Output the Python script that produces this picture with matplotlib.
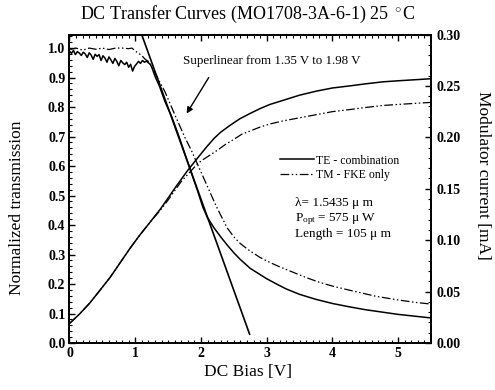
import matplotlib; matplotlib.use("Agg")
import matplotlib.pyplot as plt
from matplotlib.ticker import MultipleLocator, FormatStrFormatter
from matplotlib.lines import Line2D

plt.rcParams["font.family"] = ["Liberation Serif", "DejaVu Serif"]
plt.rcParams["mathtext.fontset"] = "custom"
plt.rcParams["mathtext.rm"] = "Liberation Serif"
plt.rcParams["mathtext.it"] = "Liberation Serif:italic"

# ---------- data ----------
# normalized transmission, TE - combination (solid, noisy at low bias)
te_T_x = [0.0, 0.03, 0.06, 0.09, 0.12, 0.15, 0.18, 0.21, 0.24, 0.27, 0.3, 0.33, 0.36,
          0.39, 0.42, 0.45, 0.48, 0.51, 0.54, 0.57, 0.6, 0.63, 0.66, 0.69, 0.72, 0.75,
          0.78, 0.81, 0.84, 0.87, 0.9, 0.93, 0.96, 0.99, 1.02, 1.05, 1.08, 1.11, 1.14,
          1.17, 1.2, 1.23, 1.26, 1.3,
          1.37, 1.45, 1.55, 1.65, 1.75, 1.85, 1.95, 2.03, 2.1, 2.2, 2.3, 2.4, 2.5, 2.6,
          2.75, 2.9, 3.0, 3.15, 3.3, 3.5, 3.75, 4.0, 4.25, 4.5, 4.75, 5.0, 5.25, 5.5]
te_T_y = [0.99, 0.982, 0.992, 0.978, 0.988, 0.983, 0.975, 0.986, 0.98, 0.968, 0.984,
          0.976, 0.962, 0.979, 0.972, 0.978, 0.958, 0.974, 0.966, 0.952, 0.97, 0.96,
          0.948, 0.965, 0.955, 0.94, 0.958, 0.95, 0.944, 0.952, 0.935, 0.945, 0.922,
          0.938, 0.946, 0.955, 0.948, 0.958, 0.952, 0.956, 0.95, 0.945, 0.93, 0.905,
          0.87, 0.82, 0.77, 0.71, 0.645, 0.58, 0.515, 0.46, 0.425, 0.39, 0.36, 0.332,
          0.306, 0.283, 0.253, 0.232, 0.218, 0.2, 0.183, 0.165, 0.148, 0.134, 0.123,
          0.113, 0.105, 0.097, 0.091, 0.085]
# normalized transmission, TM - FKE only (dash-dot-dot)
tm_T_x = [0.0, 0.1, 0.2, 0.3, 0.4, 0.5, 0.6, 0.7, 0.8, 0.9, 0.95, 1.03, 1.1, 1.15, 1.2,
          1.27, 1.35, 1.45, 1.53, 1.6, 1.68, 1.76, 1.85, 1.96, 2.05, 2.14, 2.23, 2.32,
          2.4, 2.5, 2.6, 2.74, 2.9, 3.05, 3.2, 3.4, 3.6, 3.8, 4.0, 4.3, 4.67, 5.0,
          5.25, 5.5]
tm_T_y = [0.995, 1.0, 0.993, 1.0, 0.996, 1.0, 0.995, 1.0, 1.0, 0.998, 1.0, 0.985, 0.975,
          0.962, 0.955, 0.93, 0.895, 0.853, 0.812, 0.775, 0.735, 0.695, 0.655, 0.60,
          0.555, 0.51, 0.465, 0.425, 0.39, 0.36, 0.337, 0.313, 0.29, 0.273, 0.258,
          0.24, 0.222, 0.206, 0.193, 0.177, 0.158, 0.146, 0.138, 0.132]
# modulator current [mA]
te_I_x = [0.0, 0.15, 0.31, 0.46, 0.62, 0.77, 0.92, 1.07, 1.22, 1.38, 1.5, 1.63, 1.8,
          1.95, 2.09, 2.2, 2.3, 2.45, 2.59, 2.74, 2.9, 3.05, 3.25, 3.5, 3.76, 4.0, 4.26,
          4.5, 4.77, 5.0, 5.25, 5.5]
te_I_y = [0.019, 0.028, 0.039, 0.051, 0.064, 0.078, 0.092, 0.105, 0.117, 0.13, 0.141,
          0.153, 0.168, 0.18, 0.191, 0.199, 0.205, 0.212, 0.218, 0.223, 0.228, 0.232,
          0.236, 0.241, 0.245, 0.248, 0.25, 0.252, 0.254, 0.255, 0.256, 0.257]
tm_I_x = [0.0, 0.15, 0.31, 0.46, 0.62, 0.77, 0.92, 1.07, 1.22, 1.38, 1.5, 1.6, 1.7, 1.8,
          1.9, 2.0, 2.12, 2.24, 2.37, 2.5, 2.62, 2.74, 2.9, 3.05, 3.25, 3.5, 3.75, 4.0,
          4.26, 4.5, 4.77, 5.0, 5.25, 5.5]
tm_I_y = [0.019, 0.028, 0.039, 0.051, 0.064, 0.078, 0.092, 0.105, 0.117, 0.129, 0.139,
          0.148, 0.157, 0.164, 0.171, 0.177, 0.182, 0.187, 0.193, 0.198, 0.203, 0.206,
          0.21, 0.213, 0.216, 0.219, 0.222, 0.225, 0.227, 0.229, 0.231, 0.232, 0.233,
          0.234]
# straight tangent line
fit_x = [1.10, 2.74]
fit_y = [1.045, 0.03]

dashdot2 = (0, (7, 2, 1.2, 2, 1.2, 2))

fig = plt.figure(figsize=(4.95, 3.9), dpi=100)
ax = fig.add_axes([0.1404, 0.1205, 0.7303, 0.791])
ax2 = ax.twinx()

ax.plot(te_T_x, te_T_y, color="black", lw=1.1)
ax.plot(tm_T_x, tm_T_y, color="black", lw=0.9, ls=dashdot2)
ax.plot(fit_x, fit_y, color="black", lw=1.2)
ax2.plot(te_I_x, te_I_y, color="black", lw=1.1)
ax2.plot(tm_I_x, tm_I_y, color="black", lw=0.9, ls=dashdot2)

ax.set_xlim(0, 5.5)
ax.set_ylim(0, 1.046)
ax2.set_ylim(0, 0.30)

tick_font = dict(family="Liberation Serif", weight="bold", size=10)
ax.xaxis.set_major_locator(MultipleLocator(1))
ax.xaxis.set_minor_locator(MultipleLocator(0.1))
ax.yaxis.set_major_locator(MultipleLocator(0.1))
ax.yaxis.set_minor_locator(MultipleLocator(0.02))
ax.yaxis.set_major_formatter(FormatStrFormatter("%.1f"))
ax2.yaxis.set_major_locator(MultipleLocator(0.05))
ax2.yaxis.set_minor_locator(MultipleLocator(0.01))
ax2.yaxis.set_major_formatter(FormatStrFormatter("%.2f"))
ax.tick_params(axis="x", which="both", direction="in", top=True, pad=3)
ax.tick_params(axis="y", which="both", direction="in", pad=3)
ax.tick_params(which="major", length=4, width=1.0)
ax.tick_params(which="minor", length=2, width=0.8)
ax2.tick_params(which="both", direction="in", pad=4)
ax2.tick_params(which="major", length=4, width=1.0)
ax2.tick_params(which="minor", length=2, width=0.8)
for lab in ax.get_xticklabels() + ax.get_yticklabels() + ax2.get_yticklabels():
    lab.set_fontproperties(tick_font)
for sp in list(ax.spines.values()) + list(ax2.spines.values()):
    sp.set_linewidth(1.3)

fig.text(0.5, 0.962, "DC Transfer Curves (MO1708-3A-6-1) 25 $^\\circ$C",
         ha="center", va="center", fontsize=13)
fig.text(0.5, 0.046, "DC Bias [V]", ha="center", va="center", fontsize=12.5)
fig.text(0.034, 0.467, "Normalized transmission", ha="center", va="center",
         rotation=90, fontsize=12.5)
fig.text(0.976, 0.551, "Modulator current [mA]", ha="center", va="center",
         rotation=-90, fontsize=12.5)

ax.annotate("", xy=(1.76, 0.77), xytext=(2.14, 0.908),
            arrowprops=dict(arrowstyle="-|>", color="black", lw=1.0, mutation_scale=9))
ax.text(3.08, 0.955, "Superlinear from 1.35 V to 1.98 V", ha="center", va="center",
        fontsize=9.4)

handles = [Line2D([], [], color="black", lw=1.1),
           Line2D([], [], color="black", lw=0.9, ls=dashdot2)]
ax.legend(handles, ["TE - combination", "TM - FKE only"], loc="upper left",
          bbox_to_anchor=(0.565, 0.63), frameon=False, fontsize=8.5,
          handlelength=2.9, handletextpad=0.2, labelspacing=0.2, borderpad=0)

ax.text(3.43, 0.464, "λ= 1.5435 μ m", fontsize=9.5, va="baseline")
ax.text(3.43, 0.414, "P$_{\\rm opt}$ = 575 μ W", fontsize=9.5, va="baseline")
ax.text(3.43, 0.358, "Length = 105 μ m", fontsize=9.5, va="baseline")

fig.savefig("out.png", dpi=100)
